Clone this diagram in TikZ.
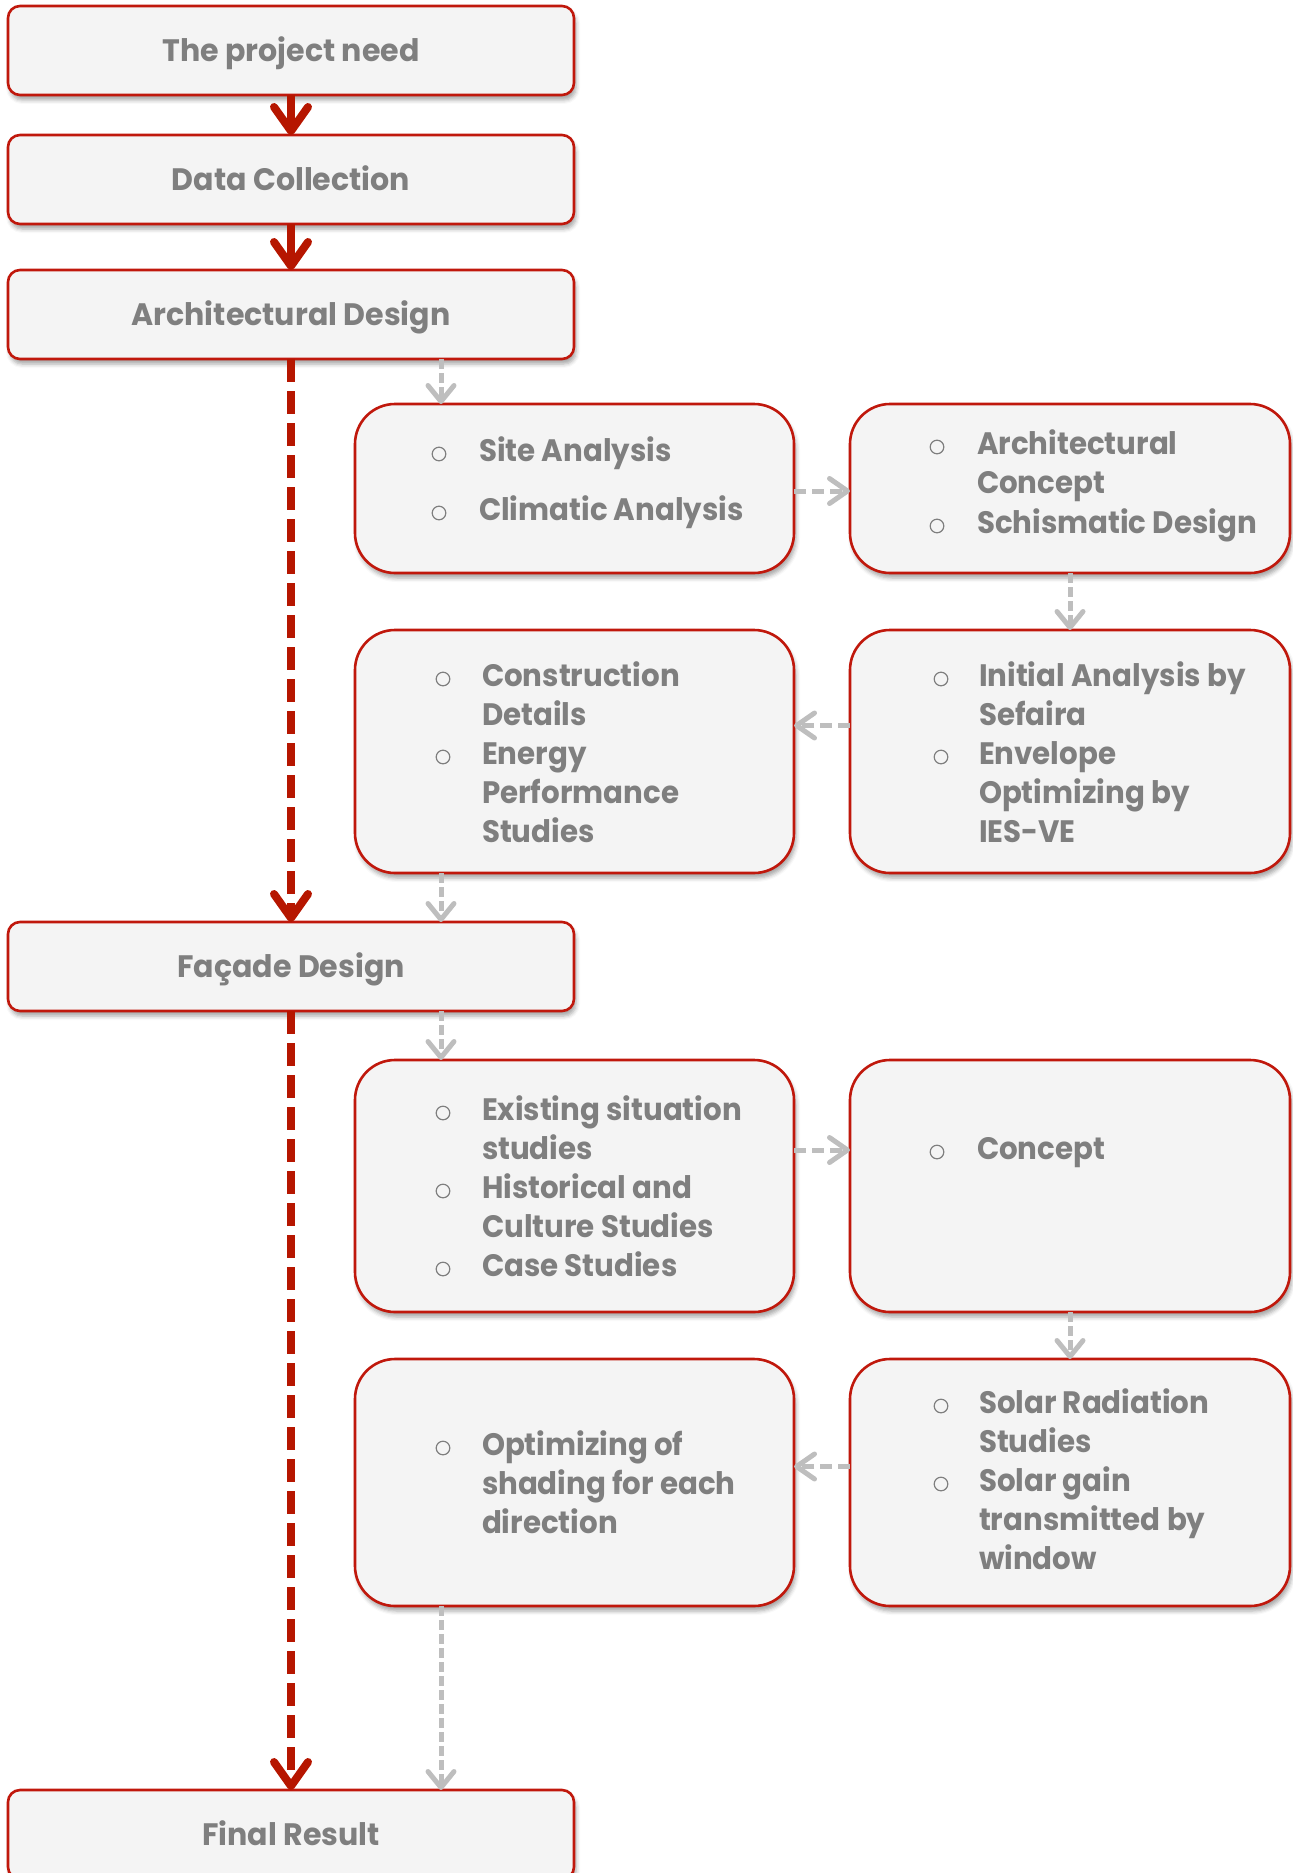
\documentclass[tikz,border=0pt]{standalone}
\usepackage{fontspec}
\setmainfont{Poppins}
\newfontfamily\itfont{Poppins}[FakeStretch=0.945]
\newfontfamily\mnfont{Poppins}[FakeStretch=0.97]
\usetikzlibrary{arrows.meta,shadows.blur,calc}
\definecolor{boxred}{RGB}{192,24,12}
\definecolor{arrred}{RGB}{182,22,0}
\definecolor{txtgray}{RGB}{127,127,127}
\definecolor{boxfill}{RGB}{244,244,244}
\definecolor{arrgray}{RGB}{190,190,190}
\begin{document}
\begin{tikzpicture}[x=0.5pt,y=-0.5pt,
  every node/.style={inner sep=0pt, outer sep=0pt},
  basebox/.style={draw=boxred, line width=1.3pt, fill=boxfill,
    blur shadow={shadow xshift=1pt, shadow yshift=-2.5pt, shadow blur radius=2pt, shadow opacity=35}},
  mainbox/.style={basebox, rounded corners=6pt, minimum width=283pt, minimum height=44.5pt,
    text height=13pt, text depth=2pt,
    font=\mnfont\bfseries\fontsize{15.5}{19.5}\selectfont, text=txtgray},
  subbox/.style={basebox, rounded corners=20pt},
  itm/.style={anchor=base west, align=left, font=\itfont\bfseries\fontsize{15.5}{19.5}\selectfont, text=txtgray},
  bul/.style={circle, draw=txtgray, line width=0.6pt, minimum size=6.8pt},
  redarr/.style={draw=arrred, line width=4pt, -{Straight Barb[length=12pt,width=17pt,round]}},
  reddash/.style={redarr, dash pattern=on 11.5pt off 4.5pt},
  grayv/.style={draw=arrgray, line width=2.5pt, dash pattern=on 5pt off 2pt,
    -{Straight Barb[length=8pt,width=13pt,round]}},
  grayh/.style={draw=arrgray, line width=2.5pt, dash pattern=on 6pt off 3pt,
    -{Straight Barb[length=9pt,width=12.5pt,round]}}
]
\useasboundingbox (0,0) rectangle (1292,1873);

% main boxes
\node[mainbox] (n1) at (291,50.5) {The project need};
\node[mainbox] (n2) at (291,179.5) {Data Collection};
\node[mainbox] (n3) at (291,314.5) {Architectural Design};
\node[mainbox] (n4) at (291,966.5) {Façade Design};
\node[mainbox] (n5) at (291,1834.5) {Final Result};

% sub boxes
\node[subbox, minimum width=219.5pt, minimum height=84.5pt] (s1) at (574.5,488.5) {};
\node[subbox, minimum width=220pt, minimum height=84.5pt] (s2) at (1070,488.5) {};
\node[subbox, minimum width=219.5pt, minimum height=121.5pt] (s3) at (574.5,751.5) {};
\node[subbox, minimum width=220pt, minimum height=121.5pt] (s4) at (1070,751.5) {};
\node[subbox, minimum width=219.5pt, minimum height=126pt] (s5) at (574.5,1186) {};
\node[subbox, minimum width=220pt, minimum height=126pt] (s6) at (1070,1186) {};
\node[subbox, minimum width=219.5pt, minimum height=123.5pt] (s7) at (574.5,1482.5) {};
\node[subbox, minimum width=220pt, minimum height=123.5pt] (s8) at (1070,1482.5) {};

% box texts (text node position = baseline of its last line; bullets sit on the first line)
\node[bul] (b1a) at (439,454) {};
\node[itm] (t1a) at (479,461) {Site Analysis};
\node[bul] (b1b) at (439,513) {};
\node[itm] (t1b) at (479,520) {Climatic Analysis};

\node[bul] (b2a) at (937,447) {};
\node[itm] (t2a) at (977,493) {Architectural\\Concept};
\node[bul] (b2b) at (937,526) {};
\node[itm] (t2b) at (977,533) {Schismatic Design};

\node[bul] (b3a) at (443,679) {};
\node[itm] (t3a) at (482,725) {Construction\\Details};
\node[bul] (b3b) at (443,757) {};
\node[itm] (t3b) at (482,842) {Energy\\Performance\\Studies};

\node[bul] (b4a) at (941,679) {};
\node[itm] (t4a) at (979,725) {Initial Analysis by\\Sefaira};
\node[bul] (b4b) at (941,757) {};
\node[itm] (t4b) at (979,842) {Envelope\\Optimizing by\\IES-VE};

\node[bul] (b5a) at (443,1113) {};
\node[itm] (t5a) at (482,1159) {Existing situation\\studies};
\node[bul] (b5b) at (443,1191) {};
\node[itm] (t5b) at (482,1237) {Historical and\\Culture Studies};
\node[bul] (b5c) at (443,1269) {};
\node[itm] (t5c) at (482,1276) {Case Studies};

\node[bul] (b6a) at (937,1152) {};
\node[itm] (t6a) at (977,1159) {Concept};

\node[bul] (b7a) at (443,1448) {};
\node[itm] (t7a) at (482,1533) {Optimizing of\\shading for each\\direction};

\node[bul] (b8a) at (941,1406) {};
\node[itm] (t8a) at (979,1452) {Solar Radiation\\Studies};
\node[bul] (b8b) at (941,1484) {};
\node[itm] (t8b) at (979,1569) {Solar gain\\transmitted by\\window};

% red connectors
\draw[redarr] (n1.south) -- (n2.north);
\draw[redarr] (n2.south) -- (n3.north);
\draw[reddash] (n3.south) -- (n4.north);
\draw[reddash] (n4.south) -- (n5.north);

% gray connectors
\coordinate (g1) at ([xshift=216.5pt]n3.south west);
\draw[grayv] (g1) -- (g1 |- s1.north);
\draw[grayh] ([yshift=-1.25pt]s1.east) -- ([yshift=-1.25pt]s2.west);
\draw[grayv] (s2.south) -- (s4.north);
\draw[grayh] ([yshift=13pt]s4.west) -- ([yshift=13pt]s3.east);
\coordinate (g2) at ([xshift=43pt]s3.south west);
\draw[grayv] (g2) -- (g2 |- n4.north);
\coordinate (g3) at ([xshift=216.5pt]n4.south west);
\draw[grayv] (g3) -- (g3 |- s5.north);
\draw[grayh] ([yshift=18pt]s5.east) -- ([yshift=18pt]s6.west);
\draw[grayv] (s6.south) -- (s8.north);
\draw[grayh] ([yshift=8pt]s8.west) -- ([yshift=8pt]s7.east);
\coordinate (g4) at ([xshift=43pt]s7.south west);
\draw[grayv] (g4) -- (g4 |- n5.north);
\end{tikzpicture}
\end{document}
